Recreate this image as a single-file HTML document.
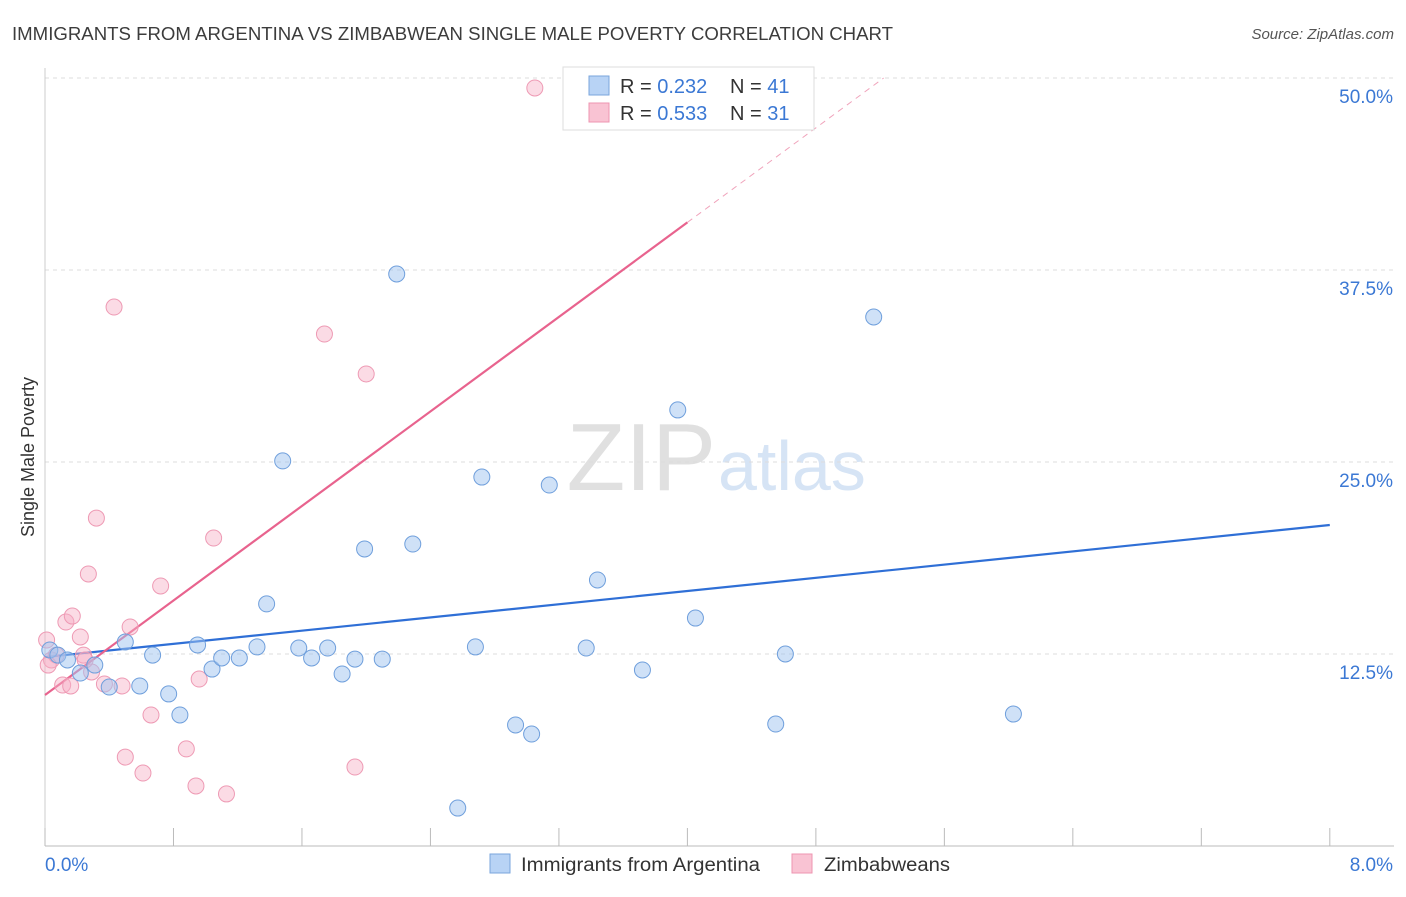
<!DOCTYPE html>
<html><head><meta charset="utf-8"><style>
body{margin:0;background:#fff;font-family:"Liberation Sans",sans-serif;}
svg text{font-family:"Liberation Sans",sans-serif;}
</style></head><body>
<svg id="chart" width="1406" height="892" xmlns="http://www.w3.org/2000/svg">
<text x="12" y="40" font-size="18" fill="#3c3c3c" textLength="881" lengthAdjust="spacingAndGlyphs">IMMIGRANTS FROM ARGENTINA VS ZIMBABWEAN SINGLE MALE POVERTY CORRELATION CHART</text>
<text x="1394" y="39" font-size="15" fill="#555" font-style="italic" text-anchor="end">Source: ZipAtlas.com</text>
<text x="716" y="490" font-size="96" fill="#e0e0e0" font-family="Liberation Serif" text-anchor="end">ZIP</text>
<text x="718" y="490" font-size="70" fill="#d6e4f5">atlas</text>
<text transform="translate(34,457) rotate(-90)" font-size="18" fill="#333" text-anchor="middle">Single Male Poverty</text>
<g id="grid"></g><g id="axes"></g><g id="lines"></g><g id="pts"></g>
<g>
<rect x="563" y="67" width="251" height="63" fill="#fff" stroke="#ddd"/>
<rect x="589" y="76" width="20" height="19" fill="#b8d3f5" stroke="#7aa6dc"/>
<rect x="589" y="103" width="20" height="19" fill="#f9c3d3" stroke="#ee94b0"/>
<text x="620" y="93" font-size="20" fill="#333">R = <tspan fill="#3b78d4">0.232</tspan></text>
<text x="730" y="93" font-size="20" fill="#333">N = <tspan fill="#3b78d4">41</tspan></text>
<text x="620" y="120" font-size="20" fill="#333">R = <tspan fill="#3b78d4">0.533</tspan></text>
<text x="730" y="120" font-size="20" fill="#333">N = <tspan fill="#3b78d4">31</tspan></text>
</g>
<g>
<rect x="490" y="854" width="20" height="19" fill="#b8d3f5" stroke="#7aa6dc"/>
<text x="521" y="871" font-size="19" fill="#333" textLength="239" lengthAdjust="spacingAndGlyphs">Immigrants from Argentina</text>
<rect x="792" y="854" width="20" height="19" fill="#f9c3d3" stroke="#ee94b0"/>
<text x="824" y="871" font-size="19" fill="#333" textLength="126" lengthAdjust="spacingAndGlyphs">Zimbabweans</text>
</g>
</svg>
<script>
const xTicks=[0,0.8,1.6,2.4,3.2,4.0,4.8,5.6,6.4,7.2,8.0];
const yTicks=[12.5,25.0,37.5,50.0];
const blueX=[0.03,0.08,0.14,0.22,0.31,0.40,0.50,0.59,0.67,0.77,0.84,0.95,1.04,1.10,1.21,1.32,1.38,1.48,1.58,1.66,1.76,1.85,1.93,1.99,2.10,2.19,2.29,2.57,2.68,2.72,2.93,3.03,3.14,3.37,3.44,3.72,3.94,4.05,4.55,4.61,5.16,6.03];
const blueY=[12.76,12.43,12.11,11.26,11.78,10.35,13.28,10.42,12.43,9.90,8.53,13.09,11.52,12.24,12.24,12.96,15.76,25.07,12.89,12.24,12.89,11.20,12.17,19.34,12.17,37.24,19.66,2.47,12.96,24.02,7.88,7.29,23.50,12.89,17.32,11.46,28.39,14.84,7.94,12.50,34.44,8.59];
const pinkX=[0.01,0.04,0.07,0.11,0.13,0.16,0.17,0.22,0.24,0.27,0.29,0.32,0.37,0.43,0.48,0.53,0.61,0.66,0.72,0.88,0.94,0.96,1.05,1.13,1.74,1.93,2.00,3.05,0.02,0.25,0.50];
const pinkY=[13.41,12.11,12.43,10.48,14.58,10.42,14.97,13.61,12.43,17.71,11.33,21.35,10.55,35.09,10.42,14.26,4.75,8.53,16.93,6.32,3.91,10.87,20.05,3.39,33.33,5.14,30.73,49.35,11.78,12.11,5.79];
const blueTrend=[12.3,20.9];
const pinkTrend=[9.83,40.6,50.0];
const pinkTrendX=[0,4.0];
const NS="http://www.w3.org/2000/svg";
const X=v=>45+v*160.6, Y=v=>846-v*15.36;
function mk(t,a,p){const e=document.createElementNS(NS,t);for(const k in a)e.setAttribute(k,a[k]);document.getElementById(p).appendChild(e);return e;}
yTicks.forEach(v=>{
 const g=mk('line',{x1:45,x2:1394,y1:Y(v),y2:Y(v),stroke:'#ddd','stroke-dasharray':'4,4'},'grid');
 
 
 const t=mk('text',{x:1393,y:Y(v)+25,'font-size':19,fill:'#3b78d4','text-anchor':'end'},'axes');
 t.textContent=v.toFixed(1)+'%';
 
 
});
const ax=mk('line',{x1:45,x2:1394,y1:846,y2:846,stroke:'#bbb'},'axes');


const ay=mk('line',{x1:45,x2:45,y1:68,y2:846,stroke:'#ccc'},'axes');


xTicks.forEach(v=>{
 const l=mk('line',{x1:X(v),x2:X(v),y1:828,y2:846,stroke:'#bbb'},'axes');
 
 
});
[[0,45,'start'],[8,1393,'end']].forEach(([v,x,a])=>{
 const t=mk('text',{x:x,y:871,'font-size':19,fill:'#3b78d4','text-anchor':a},'axes');
 t.textContent=v.toFixed(1)+'%';
 
 
});
const bl=mk('line',{x1:X(0),y1:Y(blueTrend[0]),x2:X(8),y2:Y(blueTrend[1]),stroke:'#2f6fd6','stroke-width':2.2},'lines');


const slope=(pinkTrend[1]-pinkTrend[0])/(pinkTrendX[1]-pinkTrendX[0]);
const xEnd=pinkTrendX[0]+(pinkTrend[2]-pinkTrend[0])/slope;
const pl=mk('line',{x1:X(pinkTrendX[0]),y1:Y(pinkTrend[0]),x2:X(pinkTrendX[1]),y2:Y(pinkTrend[1]),stroke:'#e8638e','stroke-width':2.2},'lines');


const pd=mk('line',{x1:X(pinkTrendX[1]),y1:Y(pinkTrend[1]),x2:X(xEnd),y2:Y(pinkTrend[2]),stroke:'#f0a3bb','stroke-width':1,'stroke-dasharray':'6,5'},'lines');


pinkX.forEach((v,i)=>{
 const c=mk('circle',{cx:X(v),cy:Y(pinkY[i]),r:8,fill:'rgba(246,175,198,0.45)',stroke:'#ee9ab4','stroke-width':1},'pts');
 
 
});
blueX.forEach((v,i)=>{
 const c=mk('circle',{cx:X(v),cy:Y(blueY[i]),r:8,fill:'rgba(160,196,240,0.5)',stroke:'#6f9fdc','stroke-width':1},'pts');
 
 
});
</script>
</body></html>
